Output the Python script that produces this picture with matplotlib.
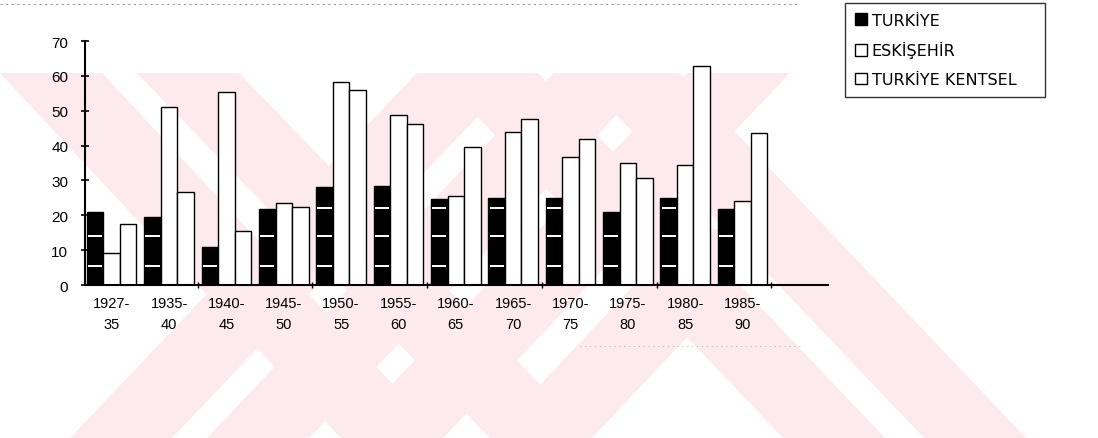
import numpy as np
import matplotlib
matplotlib.use("Agg")
import matplotlib.pyplot as plt
from matplotlib.patches import Polygon, Patch
from matplotlib.lines import Line2D

plt.rcParams['font.family'] = ['Liberation Sans', 'DejaVu Sans']

# data
periods = ['1927-\n35', '1935-\n40', '1940-\n45', '1945-\n50', '1950-\n55', '1955-\n60',
           '1960-\n65', '1965-\n70', '1970-\n75', '1975-\n80', '1980-\n85', '1985-\n90']
turkiye = [20.8, 19.4, 10.8, 21.8, 28.0, 28.5, 24.6, 25.1, 25.1, 20.8, 25.1, 21.8]
eskisehir = [9.2, 51.2, 55.4, 23.5, 58.3, 48.7, 25.6, 43.9, 36.8, 35.0, 34.5, 24.0]
turkiye_kentsel = [17.5, 26.8, 15.4, 22.5, 56.0, 46.3, 39.7, 47.6, 41.8, 30.6, 62.8, 43.7]
series_names = ['TURKİYE', 'ESKİŞEHİR', 'TURKİYE KENTSEL']

# background watermark stripes: pixel x of left edge at y0 and at y1
stripes = [((0, 74), (341, 439)), ((137, 74), (490, 439)),
           ((436, 74), (783, 439)), ((577, 74), (924, 439)),
           ((417, 74), (70, 439)), ((554, 74), (207, 439)),
           ((688, 74), (341, 439)), ((687, 230), (490, 439))]

W, H = 1098, 439
fig = plt.figure(figsize=(W / 100, H / 100), dpi=100)
fig.patch.set_facecolor('white')

pink = '#fdeaee'
sw = 102
for (xa, ya), (xb, yb) in stripes:
    pts = [(xa, ya), (xa + sw, ya), (xb + sw, yb), (xb, yb)]
    pts = [(px / W, 1 - py / H) for px, py in pts]
    fig.add_artist(Polygon(pts, closed=True, transform=fig.transFigure,
                           facecolor=pink, edgecolor='none', zorder=0))

# faint scan lines
fig.add_artist(Line2D([0, 800 / W], [1 - 5 / H] * 2, transform=fig.transFigure,
                      color='#9a9a9a', lw=0.8, ls=(0, (2, 3)), zorder=1))
fig.add_artist(Line2D([580 / W, 800 / W], [1 - 347 / H] * 2, transform=fig.transFigure,
                      color='#b0b0b0', lw=0.7, ls=(0, (1, 4)), zorder=1))

ax = fig.add_axes([85 / W, 1 - 286 / H, 743 / W, 244 / H])
ax.set_facecolor('none')

x = np.arange(len(periods))
w = 0.288
ax.bar(x - w, turkiye, w, color='black', edgecolor='black', linewidth=1, zorder=2)
ax.bar(x, eskisehir, w, color='white', edgecolor='black', linewidth=1, zorder=2)
ax.bar(x + w, turkiye_kentsel, w, color='white', edgecolor='black', linewidth=1, zorder=2)

# white scan streaks through the dark bars
for lvl in [5.5, 14, 22]:
    for xi, v in zip(x, turkiye):
        if v > lvl + 0.8:
            ax.hlines(lvl, xi - 1.5 * w + 0.02, xi - 0.5 * w - 0.02,
                      color='white', linewidth=1.4, zorder=3)

ax.set_xlim(-0.466, 12.49)
ax.set_ylim(0, 70)
for s in ['top', 'right']:
    ax.spines[s].set_visible(False)
ax.spines['left'].set_linewidth(1.5)
ax.spines['bottom'].set_linewidth(1.5)

ax.set_yticks(range(0, 71, 10))
ax.tick_params(axis='y', direction='inout', length=6, width=1.2, labelsize=11, pad=9)
ax.set_xticks(x)
ax.set_xticklabels(periods, fontsize=10.5, linespacing=1.6)
ax.tick_params(axis='x', length=0, pad=8)
ax.set_xticks([1.5, 3.5, 5.5, 7.5, 9.5, 11.5], minor=True)
ax.tick_params(axis='x', which='minor', direction='inout', length=5, width=1)

handles = [Patch(facecolor='black', edgecolor='black'),
           Patch(facecolor='white', edgecolor='black'),
           Patch(facecolor='white', edgecolor='black')]
leg = fig.legend(handles, series_names, loc='upper left', mode='expand',
                 bbox_to_anchor=(845 / W, 1 - 98 / H, 200 / W, 94 / H),
                 prop={'family': 'DejaVu Sans', 'size': 11.5},
                 frameon=True, fancybox=False, edgecolor='black',
                 handlelength=0.75, handleheight=0.75, handletextpad=0.3,
                 labelspacing=0.85, borderpad=0.62, borderaxespad=0)
leg.get_frame().set_linewidth(1.0)

fig.savefig('out.png', dpi=100)
